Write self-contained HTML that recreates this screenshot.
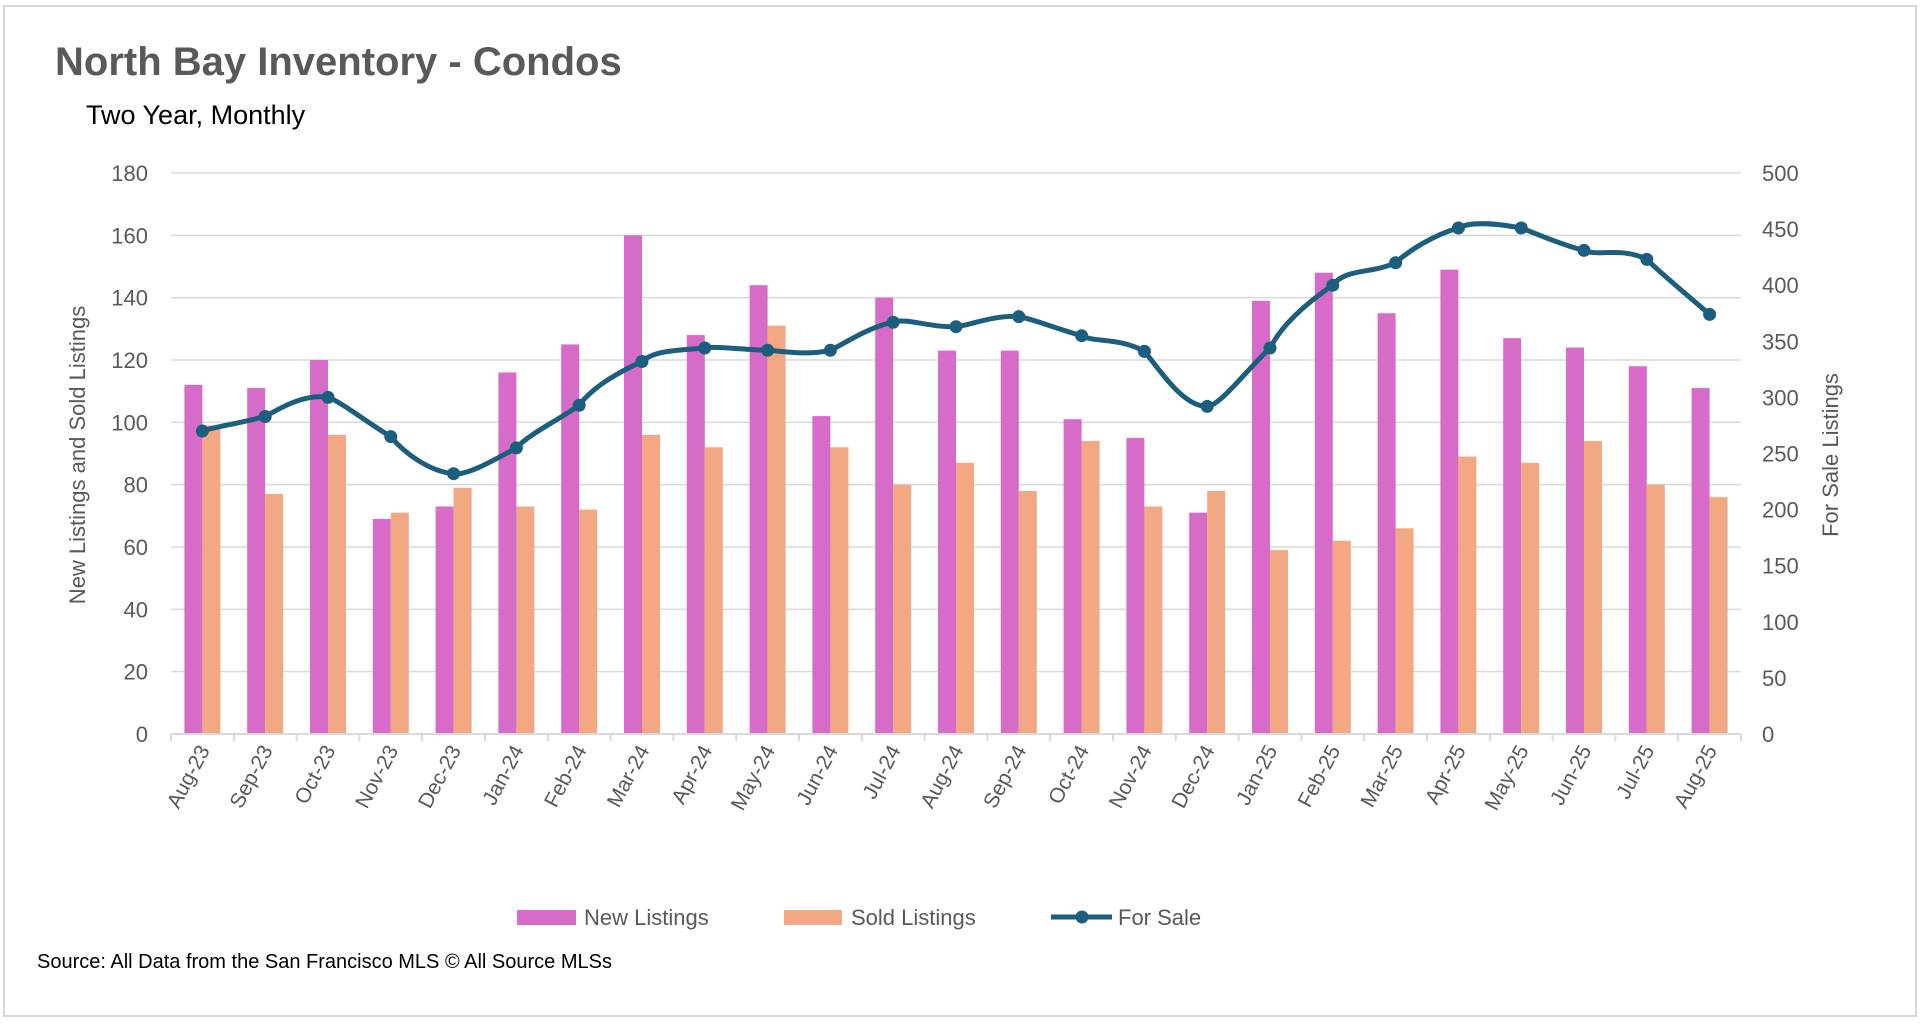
<!DOCTYPE html>
<html><head><meta charset="utf-8"><style>
html,body{margin:0;padding:0;background:#fff;}
svg{display:block;font-family:"Liberation Sans",sans-serif;}
</style></head><body>
<svg id="chart" width="1920" height="1024" viewBox="0 0 1920 1024">
<rect x="4" y="6" width="1912" height="1010" fill="#fff" stroke="#d9d9d9" stroke-width="2"/>
<text x="55" y="75" font-size="40" font-weight="bold" fill="#595959" font-family="'Liberation Sans Narrow','Liberation Sans',sans-serif">North Bay Inventory - Condos</text>
<text x="86" y="124" font-size="27" fill="#000" font-family="'Liberation Sans Narrow','Liberation Sans',sans-serif">Two Year, Monthly</text>
<g id="grid"></g><g id="bars"></g><g id="axes"></g><g id="line"></g>
<text transform="translate(85,455) rotate(-90)" text-anchor="middle" font-size="22" fill="#595959">New Listings and Sold Listings</text>
<text transform="translate(1838,455) rotate(-90)" text-anchor="middle" font-size="22" fill="#595959">For Sale Listings</text>
<g>
<rect x="517" y="910" width="59" height="15" fill="#D76BC8"/>
<text x="584" y="925" font-size="22" fill="#595959">New Listings</text>
<rect x="784" y="910" width="58" height="15" fill="#F2A882"/>
<text x="851" y="925" font-size="22" fill="#595959">Sold Listings</text>
<line x1="1051" y1="917" x2="1112" y2="917" stroke="#1B5E7E" stroke-width="5"/>
<circle cx="1082" cy="917" r="6.5" fill="#1B5E7E"/>
<text x="1118" y="925" font-size="22" fill="#595959">For Sale</text>
</g>
<text x="37" y="968" font-size="20" fill="#000">Source: All Data from the San Francisco MLS © All Source MLSs</text>
</svg>
<script>
const categories=["Aug-23","Sep-23","Oct-23","Nov-23","Dec-23","Jan-24","Feb-24","Mar-24","Apr-24","May-24","Jun-24","Jul-24","Aug-24","Sep-24","Oct-24","Nov-24","Dec-24","Jan-25","Feb-25","Mar-25","Apr-25","May-25","Jun-25","Jul-25","Aug-25"];
const newListings=[112,111,120,69,73,116,125,160,128,144,102,140,123,123,101,95,71,139,148,135,149,127,124,118,111];
const soldListings=[99,77,96,71,79,73,72,96,92,131,92,80,87,78,94,73,78,59,62,66,89,87,94,80,76];
const forSale=[270,283,300,265,232,255,293,332,344,342,342,367,363,372,355,341,292,344,400,420,451,451,431,423,374];
const leftTicks=[0,20,40,60,80,100,120,140,160,180];
const rightTicks=[0,50,100,150,200,250,300,350,400,450,500];

const NS="http://www.w3.org/2000/svg";
const X0=171,X1=1741,Y0=734,Y1=173;
const band=(X1-X0)/categories.length;
const yL=v=>Y0-(v/180)*(Y0-Y1);
const yR=v=>Y0-(v/500)*(Y0-Y1);
const xC=i=>X0+band*(i+0.5);
function mk(tag,attrs,parent){const e=document.createElementNS(NS,tag);for(const k in attrs)e.setAttribute(k,attrs[k]);parent.appendChild(e);return e;}
const grid=document.getElementById('grid'),bars=document.getElementById('bars'),axes=document.getElementById('axes'),lineG=document.getElementById('line');
leftTicks.forEach(v=>{
  if(v>0){const g=mk('line',{x1:X0,x2:X1,y1:yL(v),y2:yL(v),stroke:'#d9d9d9','stroke-width':1.5},grid);
  
  }
  const t=mk('text',{x:148,y:yL(v)+8,'text-anchor':'end','font-size':22,fill:'#595959'},axes);t.textContent=v;
  
  
});
rightTicks.forEach(v=>{
  const t=mk('text',{x:1762,y:yR(v)+8,'font-size':22,fill:'#595959'},axes);t.textContent=v;
  
  
});
const base=mk('line',{x1:X0,x2:X1,y1:Y0,y2:Y0,stroke:'#d9d9d9','stroke-width':2},axes);


for(let i=0;i<=categories.length;i++){
  const tk=mk('line',{x1:X0+band*i,x2:X0+band*i,y1:Y0,y2:Y0+7,stroke:'#d9d9d9','stroke-width':2},axes);
  
  
}
const bw=18;
categories.forEach((c,i)=>{
  const cx=xC(i);
  const b1=mk('rect',{x:cx-bw,y:yL(newListings[i]),width:bw,height:Y0-yL(newListings[i]),fill:'#D76BC8'},bars);
  
  
  const b2=mk('rect',{x:cx,y:yL(soldListings[i]),width:bw,height:Y0-yL(soldListings[i]),fill:'#F2A882'},bars);
  
  
  const t=mk('text',{transform:`translate(${cx+8},${Y0+16}) rotate(-62)`,'text-anchor':'end','font-size':21,fill:'#595959'},axes);
  t.textContent=c;
  
  
});
const pts=forSale.map((v,i)=>[xC(i),yR(v)]);
let d=`M${pts[0][0]},${pts[0][1]}`;
for(let i=0;i<pts.length-1;i++){
  const p0=pts[Math.max(0,i-1)],p1=pts[i],p2=pts[i+1],p3=pts[Math.min(pts.length-1,i+2)];
  const t=0.6/3;
  d+=` C${p1[0]+(p2[0]-p0[0])*t*0.5*2/2*2/2*1},${p1[1]+(p2[1]-p0[1])*t} ${p2[0]-(p3[0]-p1[0])*t},${p2[1]-(p3[1]-p1[1])*t} ${p2[0]},${p2[1]}`;
}
const path=mk('path',{d:d,fill:'none',stroke:'#1B5E7E','stroke-width':5},lineG);


pts.forEach(p=>{
  const m=mk('circle',{cx:p[0],cy:p[1],r:6.5,fill:'#1B5E7E'},lineG);
  
  
});
</script>
</body></html>
